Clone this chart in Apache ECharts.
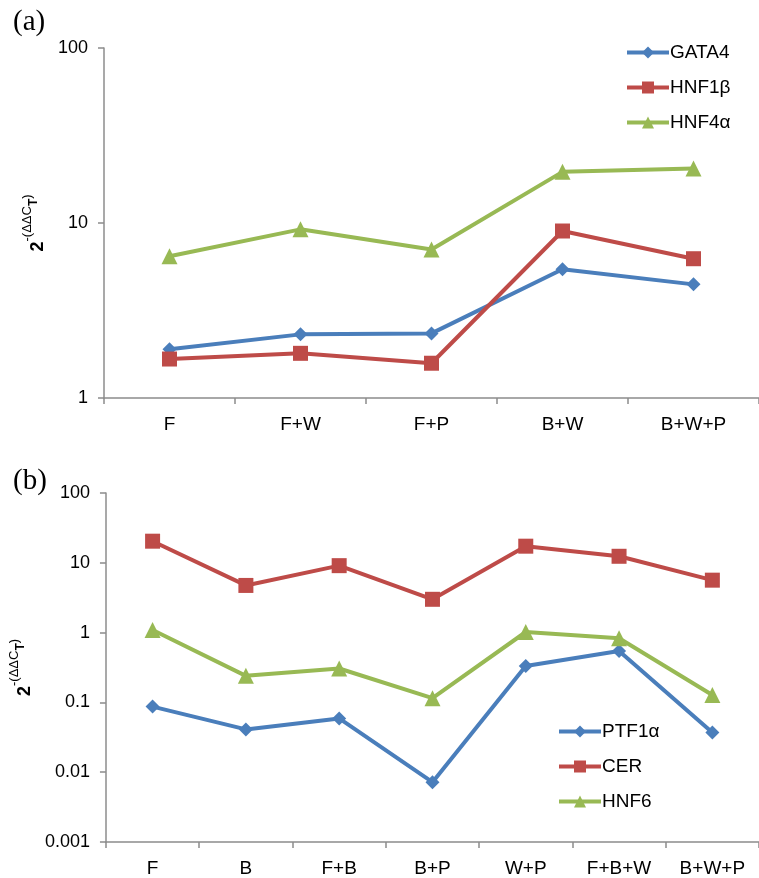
<!DOCTYPE html>
<html>
<head>
<meta charset="utf-8">
<script src="https://cdn.jsdelivr.net/npm/echarts@6/dist/echarts.min.js"></script>
<style>
html,body{margin:0;padding:0;background:#fff;}
#chart{width:759px;height:878px;}
</style>
</head>
<body>
<div id="chart"></div>
<script>
// Panel (a)
const categoriesA = ['F', 'F+W', 'F+P', 'B+W', 'B+W+P'];
const gata4 = [1.90, 2.31, 2.34, 5.44, 4.46];
const hnf1b = [1.67, 1.80, 1.58, 9.0, 6.25];
const hnf4a = [6.45, 9.2, 7.05, 19.6, 20.5];
const tickLabelsA = ['1', '10', '100'];

// Panel (b)
const categoriesB = ['F', 'B', 'F+B', 'B+P', 'W+P', 'F+B+W', 'B+W+P'];
const ptf1a = [0.087, 0.041, 0.059, 0.0072, 0.333, 0.546, 0.037];
const cer = [20.4, 4.74, 9.1, 3.0, 17.3, 12.4, 5.64];
const hnf6 = [1.09, 0.24, 0.306, 0.115, 1.02, 0.83, 0.128];
const tickLabelsB = ['0.001', '0.01', '0.1', '1', '10', '100'];

const COLORS = { blue: '#4A7EBB', red: '#BE4B48', green: '#98B954' };
const FONT = '"Liberation Sans", Arial, Helvetica, sans-serif';
const SERIF = '"Liberation Serif", "Times New Roman", serif';
const AXIS_GRAY = '#8c8c8c';

function tickFormatter(labels, minExp) {
  return function (v) {
    const idx = Math.round(Math.log10(v)) - minExp;
    return labels[idx] !== undefined ? labels[idx] : '';
  };
}

const yName = '{a|2}{b|-(ΔΔC}{c|T}{b|)}';
const yNameStyle = {
  rich: {
    a: { fontSize: 18, fontWeight: 'bold', fontFamily: FONT, color: '#000', verticalAlign: 'bottom', lineHeight: 26 },
    b: { fontSize: 13, fontFamily: FONT, color: '#000', verticalAlign: 'top', lineHeight: 26 },
    c: { fontSize: 12, fontWeight: 'bold', fontFamily: FONT, color: '#000', verticalAlign: 'top', lineHeight: 26, padding: [7, 0, 0, 0] }
  }
};

const SYMBOL_SIZE = { diamond: 14, rect: 15, triangle: 16 };

function makeSeries(name, data, symbol, color, xi) {
  return {
    name: name,
    type: 'line',
    xAxisIndex: xi,
    yAxisIndex: xi,
    data: data,
    symbol: symbol,
    symbolSize: SYMBOL_SIZE[symbol],
    showSymbol: true,
    color: color,
    lineStyle: { width: 4, color: color },
    itemStyle: { color: color },
    animation: false,
    z: 3
  };
}

const catAxis = (idx, cats) => ({
  type: 'category',
  gridIndex: idx,
  data: cats,
  boundaryGap: true,
  axisLine: { lineStyle: { color: AXIS_GRAY, width: 1.5 } },
  axisTick: { show: true, length: 6, alignWithLabel: false, lineStyle: { color: AXIS_GRAY, width: 1.5 } },
  axisLabel: { color: '#000', fontSize: 19, fontFamily: FONT, margin: 17 },
  splitLine: { show: false }
});

const logAxis = (idx, min, max, labels, minExp) => ({
  type: 'log',
  logBase: 10,
  gridIndex: idx,
  min: min,
  max: max,
  name: yName,
  nameLocation: 'middle',
  nameGap: 51,
  nameRotate: 90,
  nameTextStyle: yNameStyle,
  axisLine: { show: true, lineStyle: { color: AXIS_GRAY, width: 1.5 } },
  axisTick: { show: true, length: 6, lineStyle: { color: AXIS_GRAY, width: 1.5 } },
  axisLabel: { color: '#000', fontSize: 18, fontFamily: FONT, margin: 16, formatter: tickFormatter(labels, minExp) },
  splitLine: { show: false }
});

const legendBase = {
  orient: 'vertical',
  padding: 0,
  itemWidth: 42,
  itemHeight: 15,
  itemGap: 16,
  lineStyle: { width: 4 },
  textStyle: { fontSize: 19, fontFamily: FONT, color: '#000', padding: [0, 0, 0, -4] }
};

const option = {
  backgroundColor: '#fff',
  animation: false,
  title: [
    { text: '(a)', left: 13, top: 8, padding: 0, textStyle: { fontFamily: SERIF, fontSize: 29, fontWeight: 'normal', color: '#000' } },
    { text: '(b)', left: 13, top: 467, padding: 0, textStyle: { fontFamily: SERIF, fontSize: 29, fontWeight: 'normal', color: '#000' } }
  ],
  grid: [
    { left: 104, top: 48, width: 665, height: 350, containLabel: false },
    { left: 104, top: 493, width: 657, height: 350, containLabel: false }
  ],
  xAxis: [catAxis(0, categoriesA), catAxis(1, categoriesB)],
  yAxis: [logAxis(0, 1, 100, tickLabelsA, 0), logAxis(1, 0.001, 100, tickLabelsB, -3)],
  legend: [
    Object.assign({}, legendBase, { data: ['GATA4', 'HNF1β', 'HNF4α'], left: 625, top: 43 }),
    Object.assign({}, legendBase, { data: ['PTF1α', 'CER', 'HNF6'], left: 557, top: 722 })
  ],
  series: [
    makeSeries('GATA4', gata4, 'diamond', COLORS.blue, 0),
    makeSeries('HNF1β', hnf1b, 'rect', COLORS.red, 0),
    makeSeries('HNF4α', hnf4a, 'triangle', COLORS.green, 0),
    makeSeries('PTF1α', ptf1a, 'diamond', COLORS.blue, 1),
    makeSeries('CER', cer, 'rect', COLORS.red, 1),
    makeSeries('HNF6', hnf6, 'triangle', COLORS.green, 1)
  ]
};

const chart = echarts.init(document.getElementById('chart'), null, { renderer: 'canvas' });
chart.setOption(option);
</script>
</body>
</html>
